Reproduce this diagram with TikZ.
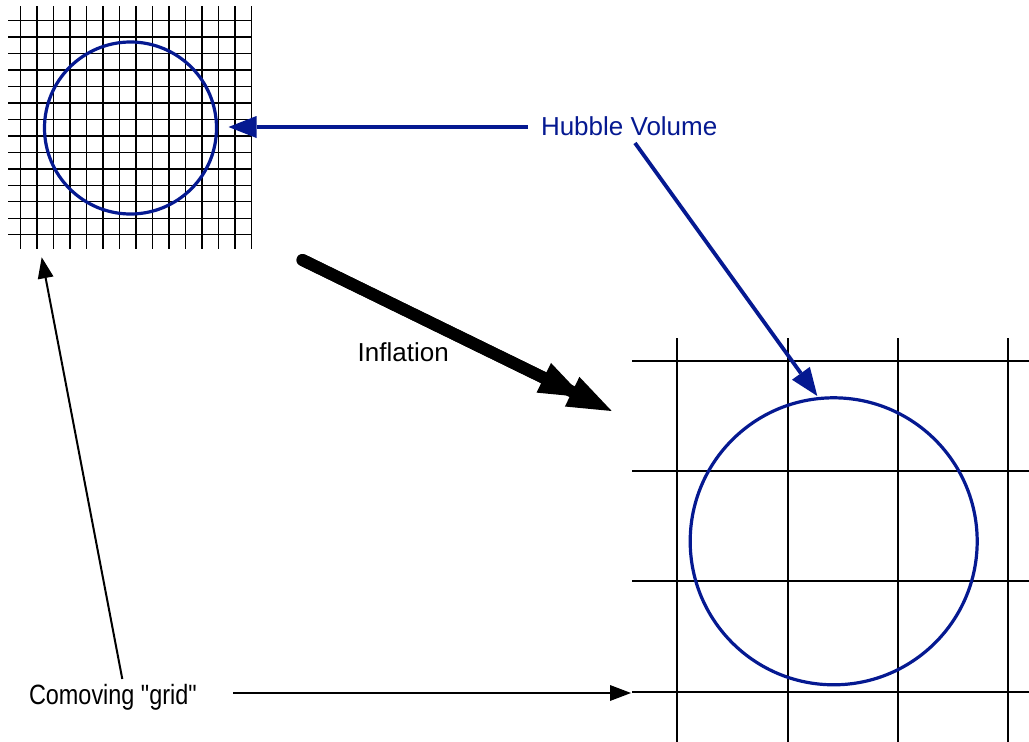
\documentclass[tikz,border=0pt]{standalone}
\usepackage{fontspec}
\setmainfont{Liberation Sans}
\newfontfamily\comfont{Liberation Sans}
\usetikzlibrary{arrows.meta}
\definecolor{hubble}{RGB}{5,25,145}
\begin{document}
\begin{tikzpicture}[x=1pt,y=-1pt,
  label text/.style={inner sep=0pt, outer sep=0pt, anchor=base west, font=\fontsize{26}{30}\selectfont},
  fine grid/.style={line width=1.2pt, black},
  coarse grid/.style={line width=2pt, black},
  volume/.style={circle, draw=hubble, line width=3.2pt, inner sep=0pt, outer sep=0pt},
  hubble arrow/.style={draw=hubble, line width=3.8pt, -{Triangle[length=28pt,width=22pt,line width=0pt]}},
  grid arrow/.style={draw=black, line width=2pt, -{Triangle[length=21pt,width=16pt,line width=0pt]}},
  inflate arrow/.style={draw=black, line width=12pt, line cap=round, -{Triangle[length=44pt,width=33pt,line width=0pt]}}
]
\useasboundingbox (0,0) rectangle (1029,742);
\fill[white] (0,0) rectangle (1029,742);
% small comoving grid
\foreach \i in {0,...,14} \draw[fine grid] ({20.5+16.5*\i},6) -- ({20.5+16.5*\i},249);
\foreach \j in {0,...,13} \draw[fine grid] (8,{20.6+16.48*\j}) -- (252,{20.6+16.48*\j});
% large comoving grid
\foreach \x in {677,787.5,898,1008} \draw[coarse grid] (\x,338) -- (\x,742);
\foreach \y in {361.3,470.5,581,692.3} \draw[coarse grid] (632,\y) -- (1029,\y);
% Hubble volumes
\node[volume, minimum size=172pt] (small) at (130.5,128) {};
\node[volume, minimum size=287pt] (big) at (833.7,541.3) {};
% labels
\node[label text, text=hubble] (hub) at (541,135) {Hubble Volume};
\node[label text] (infl) at (357.7,361) {Inflation};
\node[label text, font=\comfont\fontsize{27.9}{32}\selectfont] (com) at (29,704) {\scalebox{0.84}[1]{Comoving "grid"}};
% connector ends
\coordinate (hubA) at (528,127);
\coordinate (smallT) at (228.5,127);
\coordinate (hubB) at (635,143);
\coordinate (bigT) at (817.3,396);
\coordinate (comA) at (233,693);
\coordinate (gridT) at (631,693);
\coordinate (comB) at (122.3,679);
\coordinate (smallgT) at (41.7,257.3);
\coordinate (infA) at (302.5,260);
\coordinate (infM) at (583.3,397.1);
\coordinate (infT) at (611.7,411);
% connectors
\draw[hubble arrow] (hubA) -- (smallT);
\draw[hubble arrow] (hubB) -- (bigT);
\draw[grid arrow] (comA) -- (gridT);
\draw[grid arrow] (comB) -- (smallgT);
\draw[inflate arrow] (infA) -- (infM);
\draw[inflate arrow] (infA) -- (infT);
\end{tikzpicture}
\end{document}
